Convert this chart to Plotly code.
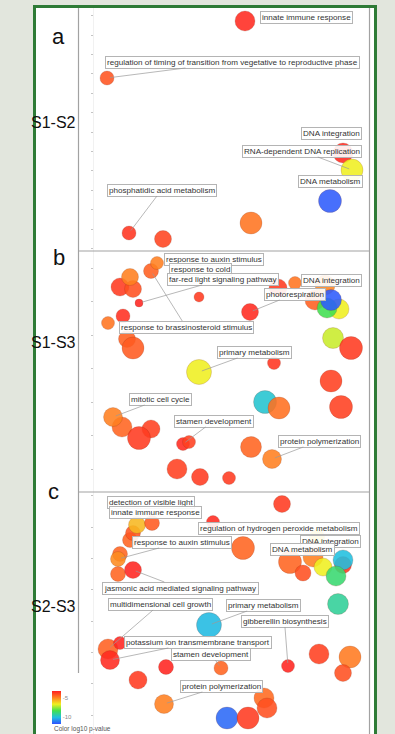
import plotly.graph_objects as go

W, H = 395, 734

# ---------------------------------------------------------------------------
# GO-term bubbles in 2-D semantic space, one block per comparison.
# size = log10 term frequency, logp = log10 p-value
# ---------------------------------------------------------------------------

# S1-S2
s1s2_terms = ["innate immune response",
              "regulation of timing of transition from vegetative to reproductive phase",
              "DNA integration", "RNA-dependent DNA replication", "DNA metabolism",
              "phosphatidic acid metabolism", "", ""]
s1s2_x = [16.7, 2.9, 26.5, 27.4, 25.2, 5.1, 8.5, 17.3]
s1s2_y = [23.0, 17.3, 9.8, 8.1, 5.0, 1.8, 1.2, 2.8]
s1s2_size = [2.0, 1.4, 2.0, 2.2, 2.3, 1.4, 1.7, 2.2]
s1s2_logp = [-3.2, -4.0, -3.2, -6.6, -11.8, -3.4, -3.7, -4.6]

# S1-S3
s1s3_terms = ["response to brassinosteroid stimulus", "response to auxin stimulus", "", "",
              "response to cold", "far-red light signaling pathway", "", "", "", "", "",
              "photorespiration", "", "", "", "DNA integration", "", "", "", "", "",
              "primary metabolism", "", "", "", "", "", "", "mitotic cell cycle", "", "",
              "stamen development", "", "", "protein polymerization", "", "", ""]
s1s3_x = [7.3, 7.9, 4.2, 5.5, 5.2, 6.1, 12.1, 4.5, 3.0, 4.9, 5.5,
          17.2, 20.0, 21.7, 23.7, 24.7, 26.1, 24.9, 25.3, 25.5, 27.3,
          12.1, 19.6, 25.3, 18.7, 20.1, 26.3, 4.4, 3.5, 7.3, 6.1,
          10.5, 11.1, 17.3, 19.4, 9.9, 12.2, 15.1]
s1s3_y = [22.1, 22.9, 20.5, 20.3, 21.5, 18.9, 19.5, 17.6, 16.9, 15.3, 14.4,
          18.0, 20.4, 20.9, 19.2, 20.7, 18.3, 18.4, 19.2, 15.4, 14.4,
          12.0, 12.9, 11.1, 9.0, 8.4, 8.5, 6.5, 7.5, 6.3, 5.4,
          4.8, 5.0, 4.5, 3.3, 2.3, 1.5, 1.4]
s1s3_size = [1.5, 1.3, 1.8, 1.7, 1.7, 0.8, 1.0, 1.4, 1.3, 1.7, 2.2,
             1.7, 1.8, 1.3, 2.0, 2.0, 2.0, 2.0, 2.1, 2.1, 2.3,
             2.5, 1.3, 2.2, 2.3, 2.2, 2.3, 2.0, 1.9, 1.8, 2.3,
             1.3, 1.3, 2.1, 1.9, 2.0, 1.7, 1.3]
s1s3_logp = [-4.2, -4.8, -3.5, -3.9, -4.8, -3.1, -3.5, -3.3, -4.6, -4.2, -4.1,
             -3.2, -3.5, -4.6, -4.2, -4.9, -6.6, -8.4, -11.8, -7.0, -3.5,
             -6.6, -3.4, -3.6, -10.0, -4.5, -3.6, -4.3, -4.8, -3.6, -3.5,
             -3.2, -3.6, -4.3, -4.8, -3.6, -3.5, -3.5]

# S2-S3
s2s3_terms = ["", "regulation of hydrogen peroxide metabolism", "", "",
              "detection of visible light", "innate immune response", "", "",
              "response to auxin stimulus", "", "jasmonic acid mediated signaling pathway",
              "", "", "", "", "DNA integration", "", "DNA metabolism", "", "",
              "primary metabolism", "multidimensional cell growth", "",
              "potassium ion transmembrane transport", "", "stamen development",
              "gibberellin biosynthesis", "", "", "", "", "protein polymerization",
              "", "", "", ""]
s2s3_x = [20.4, 13.5, 5.2, 5.5, 5.9, 7.4, 16.5, 4.2, 4.0, 4.0, 5.5,
          21.2, 23.5, 22.5, 26.5, 23.9, 24.5, 26.5, 25.8, 26.0,
          13.1, 3.0, 4.2, 3.2, 8.8, 14.3, 21.0, 6.0, 24.1, 27.2, 26.5,
          8.6, 18.6, 18.9, 14.9, 17.0]
s2s3_y = [23.0, 21.2, 19.4, 20.1, 20.9, 21.1, 18.6, 18.0, 17.5, 16.0, 16.4,
          17.2, 17.7, 16.1, 16.9, 19.7, 16.7, 17.4, 15.8, 13.0,
          10.9, 8.5, 9.1, 7.4, 6.7, 6.6, 6.8, 5.4, 8.0, 7.7, 6.1,
          3.0, 3.6, 2.6, 1.6, 1.6]
s2s3_size = [1.7, 1.3, 1.5, 1.5, 1.7, 1.5, 2.3, 1.5, 1.5, 1.5, 1.7,
             2.3, 2.0, 1.6, 1.7, 1.5, 1.8, 2.0, 2.0, 2.1,
             2.5, 2.0, 1.3, 1.9, 1.5, 1.4, 1.3, 1.8, 2.0, 2.2, 1.7,
             1.9, 2.0, 2.0, 2.2, 2.2]
s2s3_logp = [-3.5, -3.2, -4.3, -4.0, -5.7, -4.1, -4.3, -4.3, -5.0, -4.3, -3.1,
             -4.3, -4.8, -3.9, -3.4, -6.3, -6.6, -10.2, -8.8, -9.3,
             -10.3, -4.2, -3.1, -3.2, -3.1, -4.3, -3.1, -3.5, -3.6, -4.7, -3.9,
             -4.8, -4.4, -3.9, -11.6, -3.5]

# ---------------------------------------------------------------------------
# Label placement (label centre in semantic space, draw leader line or not)
# ---------------------------------------------------------------------------
s1s2_labels = {
    "innate immune response": (22.85, 23.4, False),
    "regulation of timing of transition from vegetative to reproductive phase": (15.45, 18.9, True),
    "DNA integration": (25.35, 11.8, False),
    "RNA-dependent DNA replication": (22.4, 10.0, True),
    "DNA metabolism": (25.2, 7.0, False),
    "phosphatidic acid metabolism": (8.35, 6.1, True),
}
s1s3_labels = {
    "response to auxin stimulus": (13.55, 23.3, False),
    "response to cold": (12.2, 22.3, False),
    "far-red light signaling pathway": (14.5, 21.3, True),
    "response to brassinosteroid stimulus": (10.8, 16.5, True),
    "photorespiration": (21.65, 19.8, True),
    "DNA integration": (25.3, 21.2, False),
    "primary metabolism": (17.6, 14.0, True),
    "mitotic cell cycle": (8.25, 9.3, True),
    "stamen development": (13.55, 7.1, True),
    "protein polymerization": (24.1, 5.1, True),
}
s2s3_labels = {
    "detection of visible light": (7.25, 23.2, False),
    "innate immune response": (7.75, 22.2, False),
    "regulation of hydrogen peroxide metabolism": (20.1, 20.6, False),
    "response to auxin stimulus": (10.35, 19.2, True),
    "DNA integration": (25.2, 19.3, False),
    "DNA metabolism": (22.4, 18.5, False),
    "jasmonic acid mediated signaling pathway": (10.2, 14.6, True),
    "multidimensional cell growth": (8.2, 13.0, True),
    "primary metabolism": (18.55, 12.9, True),
    "gibberellin biosynthesis": (20.65, 11.3, True),
    "potassium ion transmembrane transport": (11.95, 9.2, True),
    "stamen development": (13.3, 8.0, True),
    "protein polymerization": (14.35, 4.8, True),
}

# ---------------------------------------------------------------------------
# Styling / geometry
# ---------------------------------------------------------------------------
COLORSCALE = [[0.0, "#3050ff"], [0.2, "#20c0e0"], [0.4, "#40e050"],
              [0.6, "#f0f020"], [0.8, "#ff8020"], [1.0, "#ff2020"]]
CMIN, CMAX = -12, -3
FONT = "Liberation Sans, Arial, sans-serif"

def py2paper(py):
    return 1 - py / H

# (panel top px, panel bottom px, y-range top, first tick, tick step)
panels = [
    dict(top=8, bottom=251, ytop=24.3, tick0=2.2, dtick=1.94,
         x=s1s2_x, y=s1s2_y, size=s1s2_size, logp=s1s2_logp,
         terms=s1s2_terms, labels=s1s2_labels),
    dict(top=251, bottom=492, ytop=24.1, tick0=2.3, dtick=3.35,
         x=s1s3_x, y=s1s3_y, size=s1s3_size, logp=s1s3_logp,
         terms=s1s3_terms, labels=s1s3_labels),
    dict(top=492, bottom=734, ytop=24.2, tick0=1.9, dtick=3.13,
         x=s2s3_x, y=s2s3_y, size=s2s3_size, logp=s2s3_logp,
         terms=s2s3_terms, labels=s2s3_labels),
]

fig = go.Figure()
annotations = []
layout_axes = {}

for i, p in enumerate(panels):
    sfx = "" if i == 0 else str(i + 1)
    xa, ya = "x" + sfx, "y" + sfx
    last = i == len(panels) - 1

    fig.add_trace(go.Scatter(
        x=p["x"], y=p["y"], mode="markers", xaxis=xa, yaxis=ya,
        text=[t for t in p["terms"]], hoverinfo="text",
        marker=dict(
            size=[10 * s for s in p["size"]], sizemode="diameter",
            color=p["logp"], colorscale=COLORSCALE, cmin=CMIN, cmax=CMAX,
            opacity=0.88, line=dict(width=0.6, color="rgba(120,40,20,0.35)"),
            showscale=last,
            colorbar=dict(
                x=52 / W, xanchor="left", xref="paper",
                y=py2paper(707.5), yanchor="middle",
                len=33 / H, lenmode="fraction", thickness=9,
                outlinewidth=0, xpad=0, ypad=0, ticks="",
                tickvals=[-5, -10], ticktext=["-5", "-10"],
                tickfont=dict(size=6, color="#8a8a8a", family=FONT),
                bgcolor="rgba(0,0,0,0)",
            ),
        ),
    ))

    layout_axes["xaxis" + sfx] = dict(
        domain=[78 / W, 370 / W], range=[0, 29.2], anchor=ya, visible=False)
    layout_axes["yaxis" + sfx] = dict(
        domain=[py2paper(p["bottom"]), py2paper(p["top"])],
        range=[0, p["ytop"]], anchor="free", position=93 / W,
        showgrid=False, zeroline=False, showticklabels=False,
        ticks="outside", ticklen=2, tickwidth=1, tickcolor="#c4c4c4",
        tick0=p["tick0"], dtick=p["dtick"],
        showline=True, linecolor="#f1f1f1", linewidth=1)

    for term, (lx, ly, leader) in p["labels"].items():
        k = p["terms"].index(term)
        common = dict(
            text=term, xref=xa, yref=ya,
            font=dict(size=8.1, color="#333333", family=FONT),
            bgcolor="rgba(255,255,255,0.9)", bordercolor="#b4b4b4",
            borderwidth=1, borderpad=1,
        )
        if leader:
            annotations.append(dict(
                x=p["x"][k], y=p["y"][k], ax=lx, ay=ly, axref=xa, ayref=ya,
                showarrow=True, arrowhead=0, arrowwidth=0.7,
                arrowcolor="#9a9a9a", standoff=3, **common))
        else:
            annotations.append(dict(x=lx, y=ly, showarrow=False, **common))

# panel letters and comparison names
for letter, cx, cy in [("a", 50, 22), ("b", 51, 257), ("c", 46, 506)]:
    annotations.append(dict(
        text=letter, xref="paper", yref="paper", x=cx / W, y=py2paper(cy),
        showarrow=False, font=dict(size=22, color="#111111", family=FONT)))
for name, cy in [("S1-S2", 112), ("S1-S3", 342), ("S2-S3", 617)]:
    annotations.append(dict(
        text=name, xref="paper", yref="paper", x=78 / W, y=py2paper(cy),
        xanchor="right", showarrow=False,
        font=dict(size=16, color="#111111", family=FONT)))
annotations.append(dict(
    text="Color log10 p-value", xref="paper", yref="paper",
    x=52 / W, y=py2paper(729), xanchor="left", yanchor="middle",
    showarrow=False, font=dict(size=6.5, color="#555555", family=FONT)))

# outer green frame and grey panel separators
shapes = [
    dict(type="rect", xref="paper", yref="paper",
         x0=34.5 / W, x1=375.5 / W, y0=-0.02, y1=py2paper(6.5),
         line=dict(color="#2e7b36", width=3), fillcolor="white", layer="below"),
]
grey = dict(color="#a2a2a2", width=1.2)
for x0, y0, x1, y1 in [(78.5, 8, 78.5, 673), (369.5, 8, 369.5, 740),
                       (78.5, 251, 369.5, 251), (78.5, 492, 369.5, 492)]:
    shapes.append(dict(type="line", xref="paper", yref="paper",
                       x0=x0 / W, x1=x1 / W, y0=py2paper(y0), y1=py2paper(y1),
                       line=grey, layer="above"))

fig.update_layout(
    width=W, height=H, margin=dict(l=0, r=0, t=0, b=0),
    paper_bgcolor="#e2e6dd", plot_bgcolor="white", showlegend=False,
    annotations=annotations, shapes=shapes, **layout_axes,
)

fig.write_html("out.html")
